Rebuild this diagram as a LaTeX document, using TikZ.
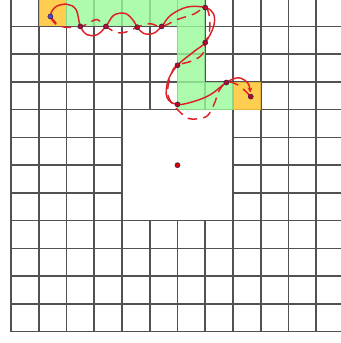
\documentclass[tikz,border=0pt]{standalone}
\usetikzlibrary{arrows.meta}
\definecolor{cellgreen}{RGB}{152,251,152}
\definecolor{cellorange}{RGB}{255,196,48}
\definecolor{pathred}{RGB}{222,32,40}
\definecolor{dotred}{RGB}{180,12,30}
\definecolor{dotblue}{RGB}{85,70,200}
\definecolor{dotrim}{RGB}{40,30,90}

\begin{document}
\begin{tikzpicture}[
  gridline/.style={line width=1.6pt, black!68},
  greencell/.style={fill=cellgreen, fill opacity=0.8},
  endcell/.style={fill=cellorange, fill opacity=0.85},
  route/.style={pathred, line width=1.5pt, line cap=round},
  detour/.style={route, dash pattern=on 9pt off 7pt},
  dot/.style={fill=dotred, draw=dotrim, line width=0.5pt}
]
  \useasboundingbox (-0.396,-0.407) rectangle (11.89,11.953);
  \clip (-0.396,-0.407) rectangle (11.89,11.953);
  % board with the hole cut out
  \draw[gridline] (0,0) grid (12,12);
  \fill[white] (4,4) rectangle (8,8);
  \draw[gridline] (4,4) rectangle (8,8);
  % cells of the route
  \foreach \c in {2,...,6} \fill[greencell] (\c,11) rectangle ++(1,1);
  \fill[greencell] (6,9) rectangle (7,11);
  \fill[greencell] (6,8) rectangle (8,9);
  \fill[endcell] (1,11) rectangle ++(1,1);
  \fill[endcell] (8,8) rectangle ++(1,1);
  % crossing points
  \coordinate (S) at (1.42,11.36);
  \coordinate (E) at (8.64,8.47);
  \coordinate (C) at (6,6);
  \coordinate (a1) at (2.5,11);
  \coordinate (a2) at (3.42,11);
  \coordinate (a3) at (4.55,10.97);
  \coordinate (a4) at (5.43,11);
  \coordinate (a5) at (7,11.68);
  \coordinate (a6) at (7,10.42);
  \coordinate (a7) at (6,9.6);
  \coordinate (a8) at (7.76,8.98);
  \coordinate (a9) at (6,8.19);
  % the two paths
  \draw[route, -{Stealth[length=5pt,width=5pt]}] plot[smooth, tension=0.6] coordinates {(1.62,11.08) (S) (1.6,11.7) (2.02,11.8) (2.35,11.6) (a1) (2.75,10.7) (3.1,10.7) (a2) (3.7,11.4) (4.12,11.47) (4.42,11.2) (a3) (4.78,10.75) (5.13,10.75) (a4) (5.75,11.4) (6.35,11.7) (a5) (7.3,11.45) (7.3,11.0) (a6) (6.6,10.1) (a7) (5.66,9.05) (5.62,8.44) (a9) (6.6,8.3) (7.2,8.55) (a8) (8.2,9.15) (8.54,8.95) (8.62,8.62)};
  \draw[detour] plot[smooth, tension=0.6] coordinates {(S) (1.8,11.0) (a1) (2.85,11.15) (3.1,11.25) (a2) (3.8,10.78) (4.15,10.8) (a3) (5.0,11.1) (a4) (6.0,11.25) (6.6,11.45) (a5) (7.16,11.3) (7.14,10.75) (a6) (6.9,10.0) (6.5,9.75) (a7) (5.8,9.35) (5.64,8.7) (5.75,8.3) (6.05,7.95) (6.4,7.68) (6.75,7.68) (7.1,7.8) (7.36,8.3) (7.45,8.6) (a8) (8.2,8.88) (E)};
  \foreach \p in {a1,a2,a3,a4,a5,a6,a7,a8,a9,E} \path[dot] (\p) circle (2.6pt);
  \path[dot, fill=dotblue] (S) circle (2.6pt);
  \path[dot, fill=red!85!black] (C) circle (2.6pt);
\end{tikzpicture}
\end{document}
